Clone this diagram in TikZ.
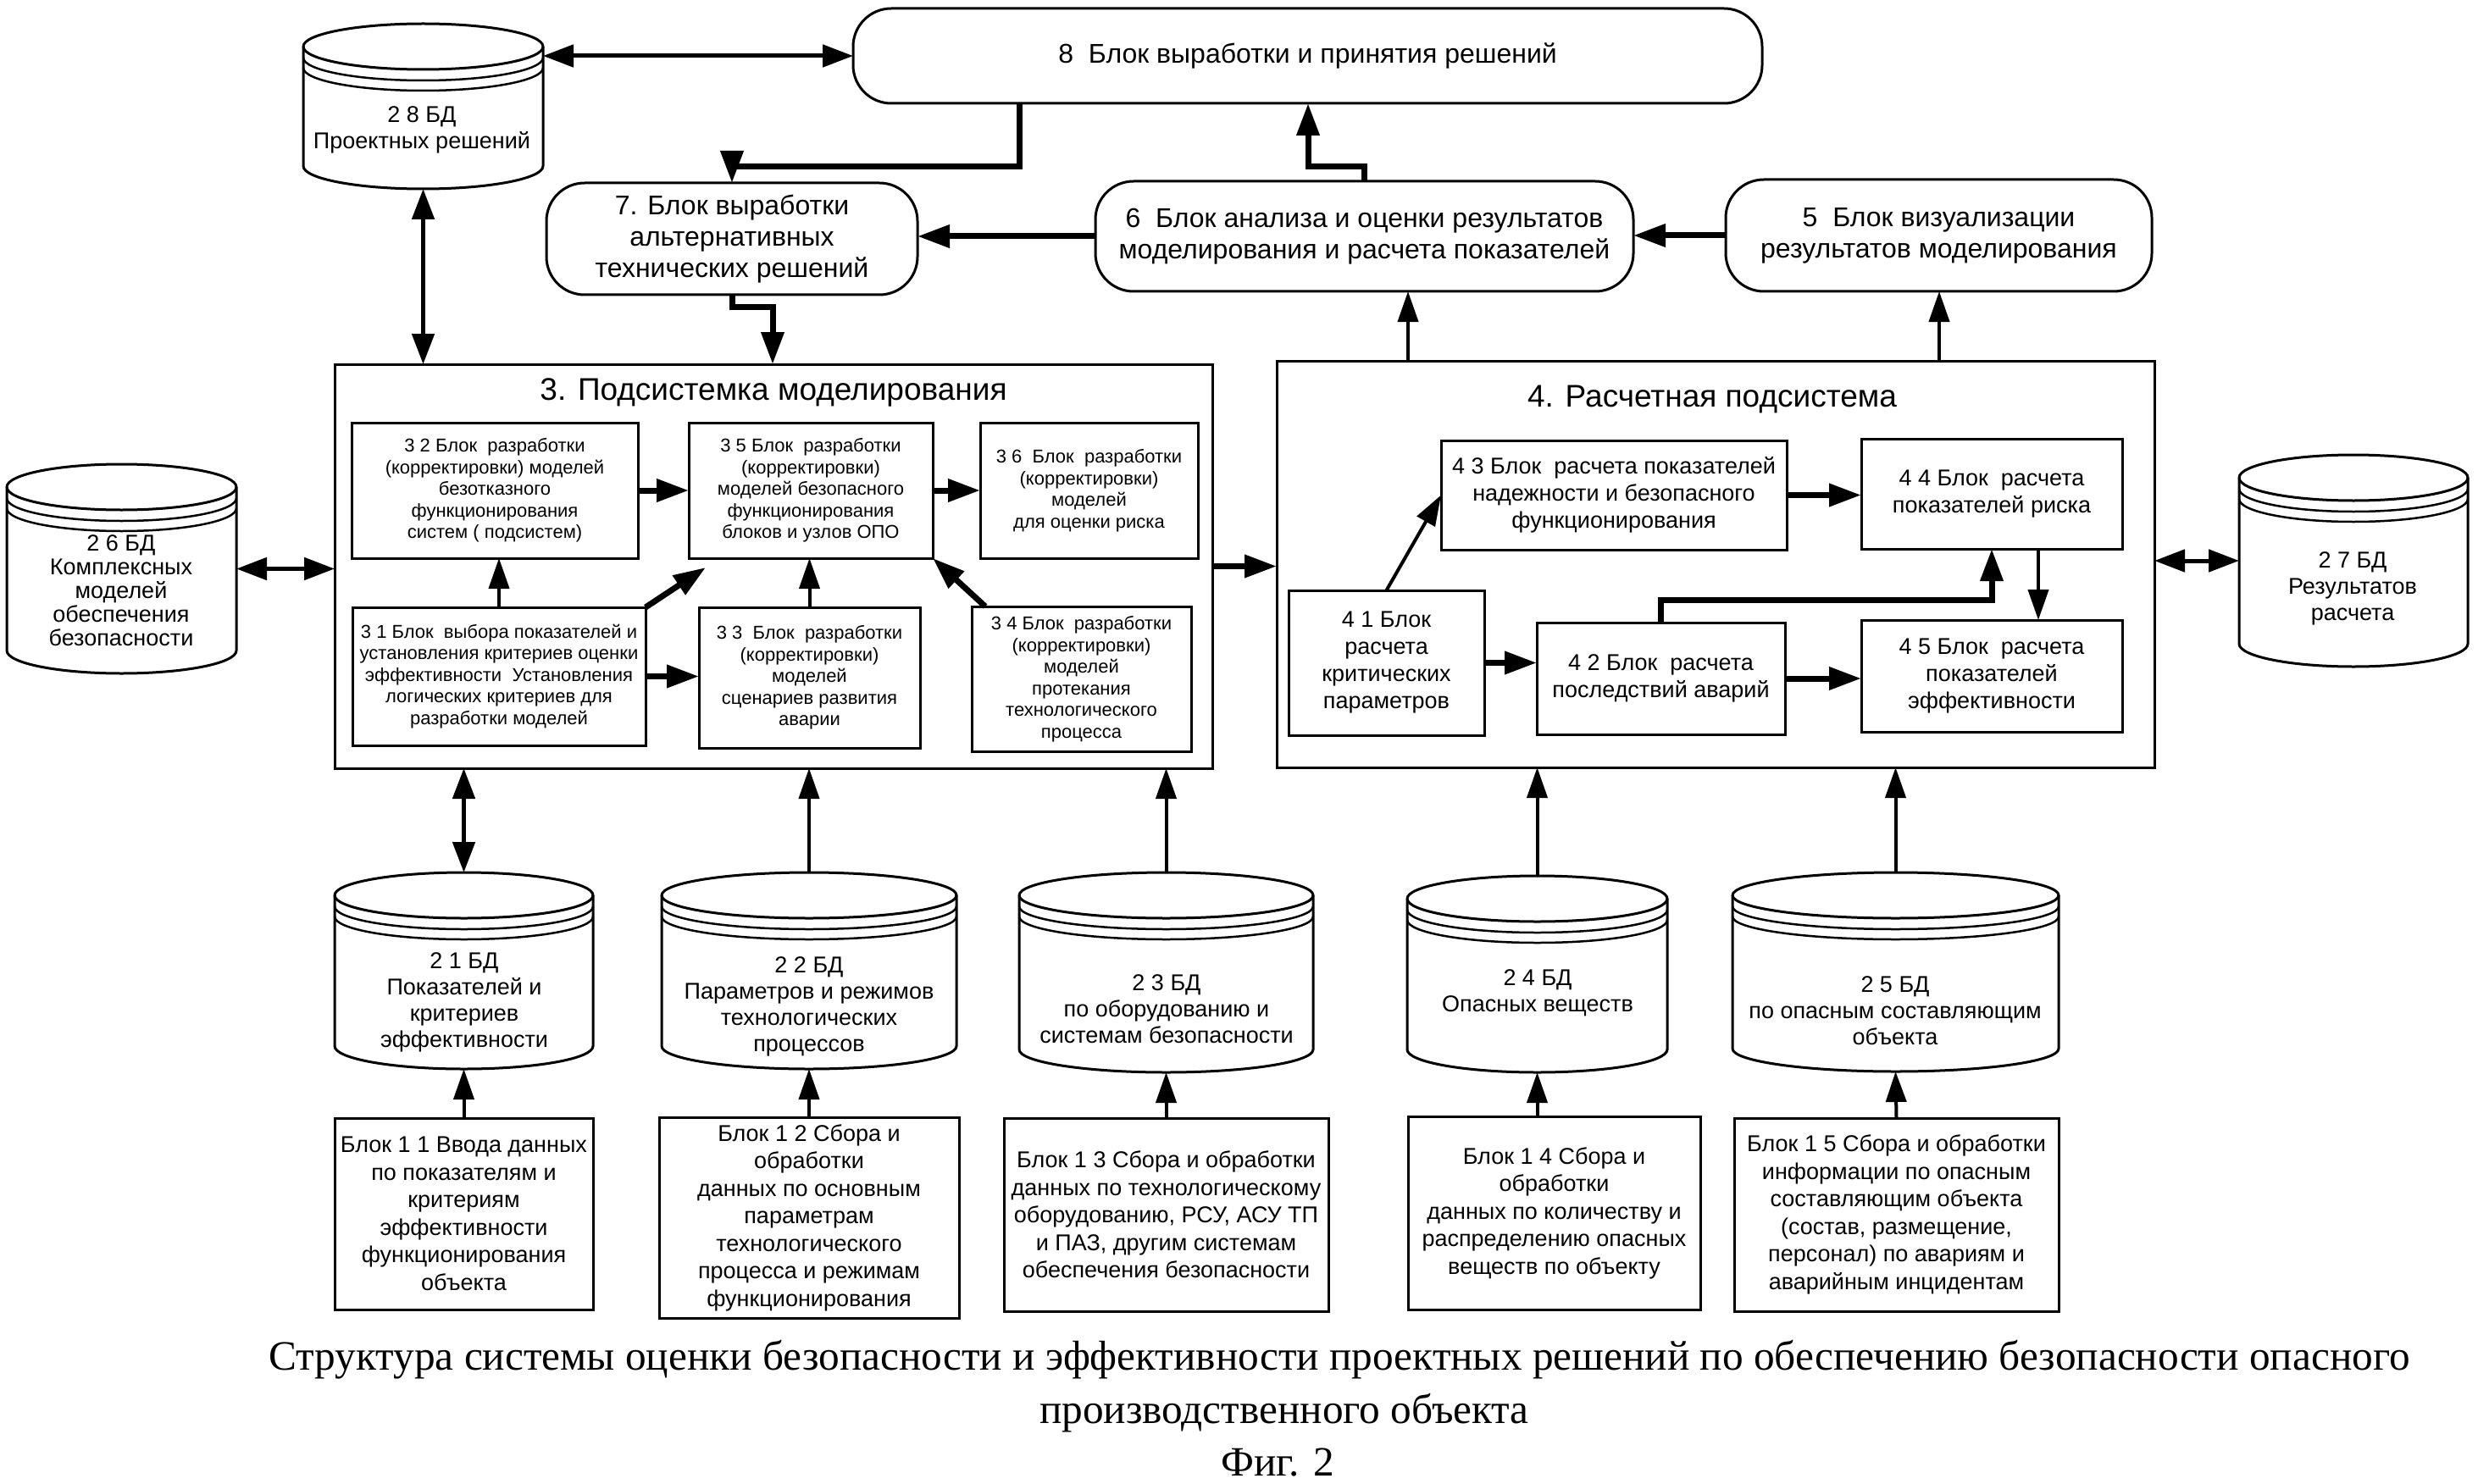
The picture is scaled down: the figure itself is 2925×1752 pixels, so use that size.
\documentclass[tikz,border=0pt]{standalone}
\usepackage{fontspec}
\setmainfont{Liberation Sans}
\newfontfamily\capfont{Liberation Serif}
\usetikzlibrary{arrows.meta,calc}

\newcommand{\bx}[7]{%
  \pgfmathsetmacro{\bxcx}{(#2+#4)/2}%
  \pgfmathsetmacro{\bxcy}{(#3+#5)/2}%
  \pgfmathsetmacro{\bxw}{#4-#2}%
  \pgfmathsetmacro{\bxh}{#5-#3}%
  \node[#6, minimum width=\bxw pt, minimum height=\bxh pt] (#1) at (\bxcx,\bxcy) {#7};}

\newcommand{\dbcyl}[5]{%
  \pgfmathsetmacro{\dbcx}{(#2+#3)/2}%
  \pgfmathsetmacro{\dbrx}{(#3-#2)/2}%
  \pgfmathsetmacro{\dbcy}{(#4+#5)/2}%
  \pgfmathsetmacro{\dbw}{#3-#2}%
  \pgfmathsetmacro{\dbh}{#5-#4}%
  \pgfmathsetmacro{\dbya}{#4+27}%
  \pgfmathsetmacro{\dbyb}{#5-27}%
  \pgfmathsetmacro{\dbyc}{\dbya+13}%
  \pgfmathsetmacro{\dbyd}{\dbya+25}%
  \node[minimum width=\dbw pt, minimum height=\dbh pt] (#1) at (\dbcx,\dbcy) {};
  \filldraw[fill=white, line width=3pt] (#2,\dbya) -- (#2,\dbyb)
     arc[start angle=180, end angle=360, x radius=\dbrx pt, y radius=27pt]
     -- (#3,\dbya)
     arc[start angle=0, end angle=180, x radius=\dbrx pt, y radius=27pt] -- cycle;
  \draw[line width=3pt] (#2,\dbya) arc[start angle=180, end angle=360, x radius=\dbrx pt, y radius=27pt];
  \draw[line width=2.5pt] (#2,\dbyc) arc[start angle=180, end angle=360, x radius=\dbrx pt, y radius=27pt];
  \draw[line width=2.5pt] (#2,\dbyd) arc[start angle=180, end angle=360, x radius=\dbrx pt, y radius=27pt];
  \node[dbtxt] (#1t) at (\dbcx,#5) {};}

\tikzset{
  every node/.style={inner sep=0pt, outer sep=0pt},
  bxbase/.style={draw, line width=3pt, align=center, fill=white},
  rbx/.style={bxbase, rounded corners=45pt, font=\fontsize{32}{37}\selectfont},
  sbx/.style={bxbase, font=\fontsize{22}{25.5}\selectfont},
  fbx/.style={bxbase, font=\fontsize{27}{32}\selectfont},
  lbx/.style={bxbase, font=\fontsize{27}{32.5}\selectfont},
  dbtxt/.style={align=center, font=\fontsize{27}{31}\selectfont},
  ttl/.style={font=\fontsize{37}{40}\selectfont},
  captxt/.style={font=\capfont\fontsize{49.3}{60}\selectfont},
  thk/.style={line width=7pt, -{Triangle[length=38pt,width=26pt]}},
  thn/.style={line width=4pt, -{Triangle[length=36pt,width=24pt]}},
  dbl/.style={line width=5pt, {Triangle[length=36pt,width=26pt]}-{Triangle[length=36pt,width=26pt]}},
}

\begin{document}
\begin{tikzpicture}[x=1pt,y=-1pt]
\useasboundingbox (0,0) rectangle (2925,1752);

% ---------- top blocks
\bx{b8}{1007}{10}{2080}{122}{rbx}{8~ Блок выработки и принятия решений}
\bx{b7}{645}{216}{1083}{348}{rbx}{7. Блок выработки\\альтернативных\\технических решений}
\bx{b6}{1293}{214}{1928}{344}{rbx}{6~ Блок анализа и оценки результатов\\моделирования и расчета показателей}
\bx{b5}{2037}{212}{2540}{344}{rbx}{5~ Блок визуализации\\результатов моделирования}

% ---------- subsystems
\bx{s3}{395}{430}{1431}{907}{bxbase}{}
\node[ttl] (t3) at (913,463) {3. Подсистемка моделирования};
\bx{s4}{1507}{426}{2543}{906}{bxbase}{}
\node[ttl] (t4) at (2021,471) {4. Расчетная подсистема};

\bx{b32}{415}{499}{753}{659}{sbx}{3 2 Блок~ разработки\\(корректировки) моделей\\безотказного\\функционирования\\систем ( подсистем)}
\bx{b35}{813}{499}{1101}{659}{sbx}{3 5 Блок~ разработки\\(корректировки)\\моделей безопасного\\функционирования\\блоков и узлов ОПО}
\bx{b36}{1157}{499}{1414}{659}{sbx}{3 6~ Блок~ разработки\\(корректировки)\\моделей\\для оценки риска}
\bx{b31}{416}{717}{762}{880}{sbx}{3 1 Блок~ выбора показателей и\\установления критериев оценки\\эффективности~ Установления\\логических критериев для\\разработки моделей}
\bx{b33}{825}{717}{1086}{883}{sbx}{3 3~ Блок~ разработки\\(корректировки)\\моделей\\сценариев развития\\аварии}
\bx{b34}{1147}{716}{1406}{887}{sbx}{3 4 Блок~ разработки\\(корректировки)\\моделей\\протекания\\технологического\\процесса}

\bx{b43}{1701}{520}{2109}{649}{fbx}{4 3 Блок~ расчета показателей\\надежности и безопасного\\функционирования}
\bx{b44}{2197}{518}{2505}{648}{fbx}{4 4 Блок~ расчета\\показателей риска}
\bx{b41}{1521}{697}{1752}{868}{fbx}{4 1 Блок\\расчета\\критических\\параметров}
\bx{b42}{1814}{735}{2107}{867}{fbx}{4 2 Блок~ расчета\\последствий аварий}
\bx{b45}{2197}{732}{2505}{864}{fbx}{4 5 Блок~ расчета\\показателей\\эффективности}

% ---------- databases
\dbcyl{db28}{358}{641}{28}{223}
\node[dbtxt] (t28) at (498,153) {2 8 БД\\Проектных решений};
\dbcyl{db26}{8}{279}{548}{795}
\node[dbtxt, font=\fontsize{27}{28}\selectfont] (t26) at (143,697) {2 6 БД\\Комплексных\\моделей\\обеспечения\\безопасности};
\dbcyl{db27}{2643}{2913}{537}{787}
\node[dbtxt] (t27) at (2777,695) {2 7 БД\\Результатов\\расчета};
\dbcyl{db21}{395}{700}{1030}{1262}
\node[dbtxt] (t21) at (548,1183) {2 1 БД\\Показателей и\\критериев\\эффективности};
\dbcyl{db22}{781}{1129}{1030}{1262}
\node[dbtxt] (t22) at (955,1188) {2 2 БД\\Параметров и режимов\\технологических\\процессов};
\dbcyl{db23}{1203}{1550}{1030}{1266}
\node[dbtxt] (t23) at (1377,1191) {2 3 БД\\по оборудованию и\\системам безопасности};
\dbcyl{db24}{1661}{1968}{1034}{1266}
\node[dbtxt] (t24) at (1815,1172) {2 4 БД\\Опасных веществ};
\dbcyl{db25}{2045}{2430}{1030}{1265}
\node[dbtxt] (t25) at (2237,1193) {2 5 БД\\по опасным составляющим\\объекта};

% ---------- input blocks
\bx{b11}{395}{1320}{700}{1546}{lbx}{Блок 1 1 Ввода данных\\по показателям и\\критериям\\эффективности\\функционирования\\объекта}
\bx{b12}{778}{1319}{1132}{1556}{lbx}{Блок 1 2 Сбора и\\обработки\\данных по основным\\параметрам\\технологического\\процесса и режимам\\функционирования}
\bx{b13}{1185}{1320}{1568}{1548}{lbx}{Блок 1 3 Сбора и обработки\\данных по технологическому\\оборудованию, РСУ, АСУ ТП\\и ПАЗ, другим системам\\обеспечения безопасности}
\bx{b14}{1662}{1318}{2007}{1546}{lbx}{Блок 1 4 Сбора и\\обработки\\данных по количеству и\\распределению опасных\\веществ по объекту}
\bx{b15}{2047}{1320}{2430}{1548}{lbx}{Блок 1 5 Сбора и обработки\\информации по опасным\\составляющим объекта\\(состав, размещение,\\персонал) по авариям и\\аварийным инцидентам}

% ---------- caption
\node[captxt] (cap1) at (1581,1605) {Структура системы оценки безопасности и эффективности проектных решений по обеспечению безопасности опасного};
\node[captxt] (cap2) at (1516,1668) {производственного объекта};
\node[captxt] (cap3) at (1508,1727) {Фиг. 2};

% ---------- connectors, top
\draw[dbl] (b8.west) -- (b8.west -| db28.east);
\draw[dbl] (db28.south) -- (db28.south |- s3.north);
\draw[thk] ([xshift=196pt]b8.south west) -- ++(0,75) -| (b7.north);
\draw[thk] (b6.north) -- ++(0,-17) -| ([xshift=537pt]b8.south west);
\draw[thk] (b6.west) -- (b6.west -| b7.east);
\draw[thk] (b5.west) -- (b5.west -| b6.east);
\draw[thk] (b7.south) -- ++(0,15) -| ([xshift=517pt]s3.north west);
\draw[thn] ([xshift=155pt]s4.north west) -- ([xshift=369pt]b6.south west);
\draw[thn] ([xshift=782pt]s4.north west) -- ([xshift=252pt]b5.south west);

% ---------- side connectors
\draw[dbl] (db26.east) -- (db26.east -| s3.west);
\draw[thk] (s3.east) -- (s3.east -| s4.west);
\draw[dbl] (s4.east |- db27.west) -- (db27.west);

% ---------- subsystem 3
\draw[thk] (b32.east) -- (b32.east -| b35.west);
\draw[thk] (b35.east) -- (b35.east -| b36.west);
\draw[thn] (b31.north) -- (b31.north |- b32.south);
\draw[thk] (b31.north east) -- ([xshift=20pt,yshift=-11pt]b35.south west);
\draw[thk] (b31.east) -- (b31.east -| b33.west);
\draw[thn] (b33.north) -- (b33.north |- b35.south);
\draw[thk] ([xshift=16pt]b34.north west) -- (b35.south east);

% ---------- subsystem 4
\draw[thn] (b41.north) -- (b43.west);
\draw[thk] (b43.east) -- (b43.east -| b44.west);
\draw[thk] (b41.east) -- (b41.east -| b42.west);
\draw[thk] (b42.east) -- (b42.east -| b45.west);
\draw[thk] (b42.north) -- ++(0,-27) -| (b44.south);
\draw[thn] ([xshift=209pt]b44.south west) -- ([xshift=209pt]b45.north west);

% ---------- bottom connectors
\draw[dbl] (db21.north) -- (db21.north |- s3.south);
\draw[thn] (b11.north) -- (db21.south);
\draw[thn] (db22.north) -- (db22.north |- s3.south);
\draw[thn] (b12.north) -- (db22.south);
\draw[thn] (db23.north) -- (db23.north |- s3.south);
\draw[thn] (b13.north) -- (db23.south);
\draw[thn] (db24.north) -- (db24.north |- s4.south);
\draw[thn] (db24.south |- b14.north) -- (db24.south);
\draw[thn] (db25.north) -- (db25.north |- s4.south);
\draw[thn] (b15.north) -- (db25.south);
\end{tikzpicture}
\end{document}
